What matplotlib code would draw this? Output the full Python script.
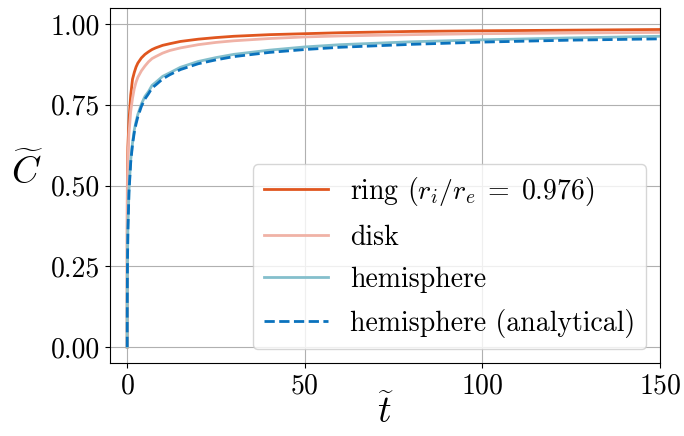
import matplotlib
matplotlib.use("Agg")
import matplotlib.pyplot as plt

# readings (dimensionless time, concentration)
t = [0, 0.01, 0.05, 0.1, 0.2, 0.5, 1, 1.5, 2, 2.5, 3, 4, 5, 6, 7, 8, 10, 12, 15, 20, 25,
     30, 40, 50, 60, 80, 100, 125, 150]
ring = [0, 0.35, 0.50, 0.56, 0.62, 0.70, 0.78, 0.829, 0.850, 0.867, 0.879, 0.895, 0.906, 0.914,
        0.921, 0.926, 0.934, 0.939, 0.946, 0.953, 0.958, 0.962, 0.967, 0.970, 0.973, 0.977,
        0.979, 0.981, 0.983]
disk = [0, 0.30, 0.45, 0.52, 0.58, 0.66, 0.73, 0.770, 0.800, 0.820, 0.835, 0.855, 0.870, 0.883,
        0.893, 0.899, 0.910, 0.918, 0.926, 0.936, 0.943, 0.948, 0.955, 0.960, 0.963, 0.967,
        0.970, 0.972, 0.974]
hemi = [0, 0.11, 0.22, 0.285, 0.365, 0.485, 0.58, 0.632, 0.672, 0.698, 0.72, 0.752, 0.776, 0.791,
        0.81, 0.819, 0.838, 0.849, 0.866, 0.884, 0.896, 0.906, 0.919, 0.929, 0.936, 0.945,
        0.951, 0.957, 0.962]
hemi_an = [0, 0.104, 0.210, 0.276, 0.356, 0.477, 0.572, 0.627, 0.664, 0.691, 0.7125, 0.745,
           0.768, 0.784, 0.802, 0.811, 0.830, 0.843, 0.859, 0.877, 0.889, 0.899, 0.912, 0.921,
           0.928, 0.937, 0.944, 0.950, 0.954]

labels = [r'ring $(r_i/r_e\;=\;0.976)$', 'disk', 'hemisphere', 'hemisphere (analytical)']

plt.rcParams['font.family'] = 'serif'
plt.rcParams['font.serif'] = ['cmr10']
plt.rcParams['mathtext.fontset'] = 'cm'
plt.rcParams['axes.formatter.use_mathtext'] = True

fig = plt.figure(figsize=(6.84, 4.36), dpi=100)
ax = fig.add_axes([0.161, 0.167, 0.804, 0.815])

ax.plot(t, ring, color='#e0561f', lw=2, label=labels[0])
ax.plot(t, disk, color='#f0b2a6', lw=2, label=labels[1])
ax.plot(t, hemi, color='#84bfcc', lw=2, label=labels[2])
ax.plot(t, hemi_an, '--', color='#0a72bd', lw=2, label=labels[3])

ax.set_xlim(-4.8, 150)
ax.set_ylim(-0.05, 1.05)
ax.set_xticks([0, 50, 100, 150])
ax.set_yticks([0, 0.25, 0.5, 0.75, 1.0])
ax.set_yticklabels(['0.00', '0.25', '0.50', '0.75', '1.00'])
ax.tick_params(labelsize=20)
ax.grid(True)

ax.set_xlabel(r'$\widetilde{t}$', fontsize=27)
ax.set_ylabel(r'$\widetilde{C}$', fontsize=27, rotation=0, va='center')
ax.yaxis.set_label_coords(-0.15, 0.54)
ax.xaxis.set_label_coords(0.5, -0.085)

ax.legend(loc='lower right', fontsize=20, handlelength=2.3, labelspacing=0.58)

fig.savefig('out.png', dpi=100)
